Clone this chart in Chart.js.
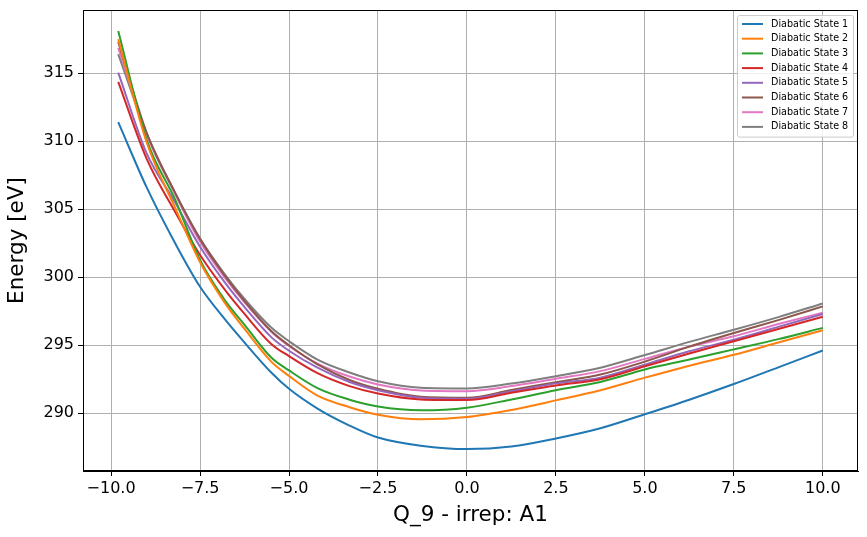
<!DOCTYPE html>
<html>
<head>
<meta charset="utf-8">
<script src="https://cdn.jsdelivr.net/npm/chart.js@4"></script>
<style>
  html, body { margin: 0; padding: 0; background: #fff; }
</style>
</head>
<body>
<canvas id="energyChart" width="867" height="537"></canvas>
<script>
const qValues = [-9.8, -9.0, -8.2, -7.5, -6.8, -6.25, -5.5, -5.0, -4.2, -3.3, -2.5, -1.3, 0, 1.25, 2.5, 3.75, 5.0, 6.25, 7.5, 8.75, 10.0];

const state1 = [311.4, 306.6, 302.5, 299.3, 296.9, 295.2, 293.0, 291.8, 290.35, 289.1, 288.22, 287.62, 287.37, 287.56, 288.15, 288.9, 289.93, 291.0, 292.15, 293.38, 294.62];
const state2 = [317.5, 309.9, 305.1, 301.1, 298.1, 296.2, 293.8, 292.75, 291.3, 290.45, 289.9, 289.56, 289.73, 290.25, 290.95, 291.7, 292.62, 293.5, 294.3, 295.2, 296.1];
const state3 = [318.1, 310.1, 305.7, 301.27, 298.3, 296.5, 294.1, 293.15, 291.85, 291.0, 290.5, 290.22, 290.41, 291.02, 291.7, 292.3, 293.22, 293.95, 294.7, 295.45, 296.28];
const state4 = [314.36, 308.7, 304.8, 301.63, 299.07, 297.3, 295.1, 294.2, 292.95, 292.0, 291.46, 291.02, 290.97, 291.51, 292.05, 292.5, 293.46, 294.4, 295.3, 296.2, 297.1];
const state5 = [315.04, 309.1, 305.5, 302.24, 299.6, 297.8, 295.6, 294.6, 293.35, 292.3, 291.7, 291.15, 291.07, 291.62, 292.2, 292.62, 293.58, 294.56, 295.41, 296.35, 297.3];
const state6 = [317.3, 310.6, 306.2, 302.8, 300.1, 298.25, 296.05, 295.0, 293.6, 292.45, 291.8, 291.22, 291.15, 291.71, 292.29, 292.85, 293.8, 294.9, 295.9, 296.85, 297.86];
const state7 = [316.87, 310.5, 306.1, 302.6, 299.95, 298.15, 296.0, 294.95, 293.65, 292.7, 292.12, 291.68, 291.63, 292.0, 292.54, 293.1, 294.0, 294.9, 295.66, 296.56, 297.4];
const state8 = [316.4, 310.6, 306.2, 302.85, 300.2, 298.4, 296.3, 295.3, 293.95, 293.0, 292.36, 291.88, 291.83, 292.19, 292.73, 293.35, 294.28, 295.25, 296.14, 297.07, 298.07];

const stateLabels = ["Diabatic State 1", "Diabatic State 2", "Diabatic State 3", "Diabatic State 4",
  "Diabatic State 5", "Diabatic State 6", "Diabatic State 7", "Diabatic State 8"];
const stateColors = ["#1f77b4", "#ff7f0e", "#2ca02c", "#d62728", "#9467bd", "#8c564b", "#e377c2", "#7f7f7f"];

const xTicks = [-10, -7.5, -5, -2.5, 0, 2.5, 5, 7.5, 10];
const yTicks = [290, 295, 300, 305, 310, 315];

const allStates = [state1, state2, state3, state4, state5, state6, state7, state8];
const datasets = allStates.map((values, i) => ({
  label: stateLabels[i],
  borderColor: stateColors[i],
  backgroundColor: stateColors[i],
  borderWidth: 2,
  pointRadius: 0,
  cubicInterpolationMode: "monotone",
  data: values.map((y, j) => ({ x: qValues[j], y: y })),
}));

const minus = (v, digits) => (v < 0 ? "\u2212" : "") + Math.abs(v).toFixed(digits);

// matplotlib style box + legend in the upper right corner
const framePlugin = {
  id: "frame",
  afterDraw(chart) {
    const ctx = chart.ctx;
    const a = chart.chartArea;
    ctx.save();
    ctx.strokeStyle = "#000";
    ctx.lineWidth = 1;
    ctx.strokeRect(a.left + 0.5, a.top + 0.5, a.right - a.left - 1, a.bottom - a.top - 1);

    const boxW = 116, rowH = 14.7;
    const boxH = 4 + rowH * chart.data.datasets.length;
    const bx = a.right - boxW - 5, by = a.top + 5;
    ctx.fillStyle = "rgba(255,255,255,0.8)";
    ctx.strokeStyle = "#cccccc";
    ctx.beginPath();
    ctx.roundRect(bx + 0.5, by + 0.5, boxW, boxH, 2);
    ctx.fill();
    ctx.stroke();

    ctx.font = "9.6px 'DejaVu Sans'";
    ctx.textBaseline = "middle";
    chart.data.datasets.forEach((ds, i) => {
      const y = by + 9 + i * rowH;
      ctx.strokeStyle = ds.borderColor;
      ctx.lineWidth = 2;
      ctx.beginPath();
      ctx.moveTo(bx + 5, y);
      ctx.lineTo(bx + 26, y);
      ctx.stroke();
      ctx.fillStyle = "#000";
      ctx.fillText(ds.label, bx + 34, y);
    });
    ctx.restore();
  },
};

const energyCtx = document.getElementById("energyChart").getContext("2d");
const energyChart = new Chart(energyCtx, {
  type: "line",
  data: { datasets: datasets },
  plugins: [framePlugin],
  options: {
    responsive: false,
    animation: false,
    layout: { padding: { top: 10, right: 9, left: 0, bottom: 0 } },
    plugins: { legend: { display: false }, tooltip: { enabled: false } },
    scales: {
      x: {
        type: "linear",
        min: -10.79,
        max: 10.99,
        afterBuildTicks: (s) => { s.ticks = xTicks.map((v) => ({ value: v })); },
        afterFit: (s) => { s.height = 66; s.paddingLeft = 0; s.paddingRight = 0; },
        ticks: {
          color: "#000",
          font: { family: "DejaVu Sans", size: 16 },
          padding: 3,
          maxRotation: 0,
          autoSkip: false,
          callback: (v) => minus(v, 1),
        },
        grid: { color: "#b0b0b0", lineWidth: 1, tickColor: "#000", tickLength: 5 },
        border: { color: "#000", width: 1 },
        title: {
          display: true,
          text: "Q_9 - irrep: A1",
          color: "#000",
          font: { family: "DejaVu Sans", size: 21.5 },
          padding: { top: 0, bottom: 9 },
        },
      },
      y: {
        type: "linear",
        min: 285.76,
        max: 319.64,
        afterBuildTicks: (s) => { s.ticks = yTicks.map((v) => ({ value: v })); },
        afterFit: (s) => { s.width = 83; s.paddingTop = 0; s.paddingBottom = 0; },
        ticks: {
          color: "#000",
          font: { family: "DejaVu Sans", size: 16 },
          padding: 4,
          autoSkip: false,
          callback: (v) => String(v),
        },
        grid: { color: "#b0b0b0", lineWidth: 1, tickColor: "#000", tickLength: 5 },
        border: { color: "#000", width: 1 },
        title: {
          display: true,
          text: "Energy [eV]",
          color: "#000",
          font: { family: "DejaVu Sans", size: 21.5 },
          padding: { top: 5, bottom: 0 },
        },
      },
    },
  },
});
</script>
</body>
</html>
